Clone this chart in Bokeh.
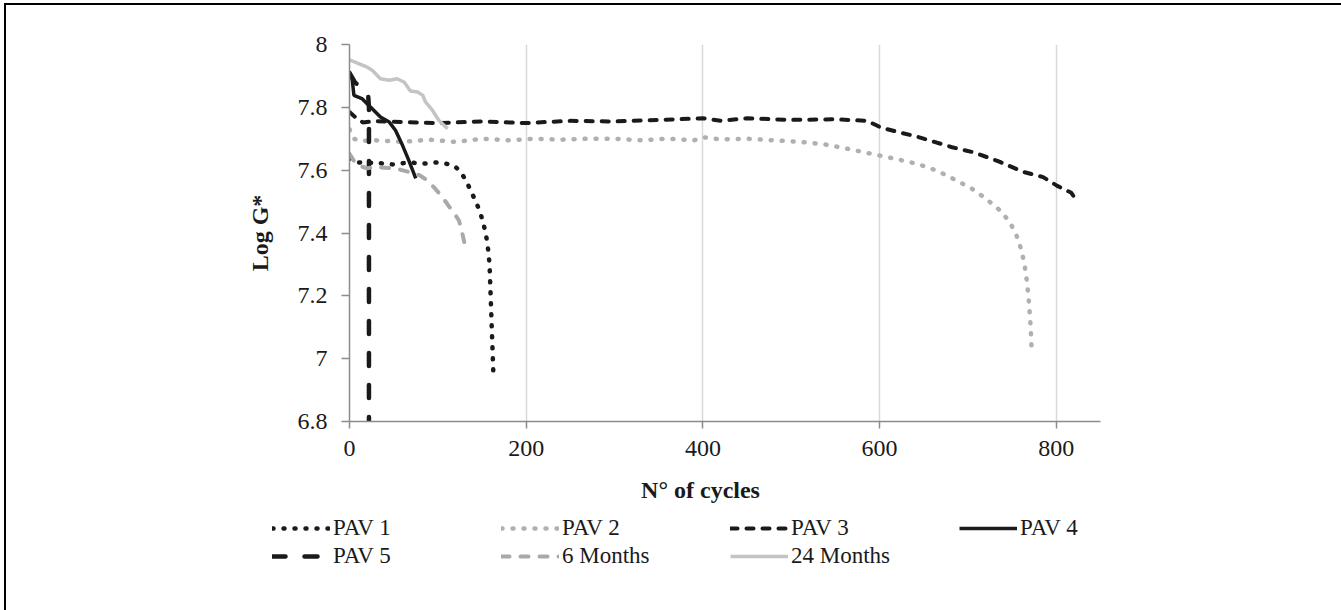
from bokeh.plotting import figure
from bokeh.layouts import column
from bokeh.models import Range1d, FixedTicker, Legend, LegendItem, Label
from bokeh.embed import file_html
from bokeh.resources import INLINE

# ---------------- data ----------------
series_names = ["PAV 1", "PAV 2", "PAV 3", "PAV 4", "PAV 5", "6 Months", "24 Months"]

x_pav1 = [0, 4, 10, 20, 30, 40, 50, 60, 70, 80, 90, 100, 110, 118, 124, 129, 133, 138, 143,
          148, 152, 155, 157, 158.5, 159.5, 160.5, 161.5, 162.5, 163]
y_pav1 = [7.64, 7.63, 7.625, 7.622, 7.625, 7.62, 7.618, 7.622, 7.625, 7.62, 7.622, 7.625, 7.62,
          7.615, 7.60, 7.58, 7.56, 7.53, 7.50, 7.465, 7.425, 7.385, 7.345, 7.30, 7.22, 7.14,
          7.06, 6.98, 6.94]

x_pav2 = [0, 5, 12, 30, 60, 90, 120, 150, 180, 210, 240, 270, 300, 330, 360, 390, 400, 420,
          450, 480, 510, 538, 564, 591, 618, 644, 666, 690, 705, 720, 735, 746, 754, 760, 764,
          767, 769, 770.5, 771.5, 772]
y_pav2 = [7.73, 7.70, 7.693, 7.695, 7.69, 7.697, 7.69, 7.70, 7.695, 7.70, 7.697, 7.70, 7.70,
          7.695, 7.70, 7.695, 7.705, 7.698, 7.70, 7.695, 7.69, 7.682, 7.668, 7.652, 7.636,
          7.619, 7.597, 7.563, 7.54, 7.51, 7.475, 7.44, 7.40, 7.35, 7.30, 7.24, 7.18, 7.12,
          7.07, 7.03]

x_pav3 = [0, 8, 15, 30, 60, 100, 150, 200, 250, 300, 350, 400, 420, 450, 500, 550, 586, 602,
          626, 642, 662, 682, 706, 734, 762, 785, 801, 817, 820]
y_pav3 = [7.785, 7.765, 7.752, 7.756, 7.753, 7.75, 7.755, 7.75, 7.757, 7.755, 7.76, 7.765,
          7.757, 7.765, 7.76, 7.762, 7.757, 7.735, 7.718, 7.707, 7.69, 7.673, 7.657, 7.629,
          7.595, 7.578, 7.55, 7.528, 7.515]

x_pav4 = [0, 3, 5, 14, 24, 35, 45, 52, 60, 67, 75]
y_pav4 = [7.905, 7.89, 7.838, 7.828, 7.80, 7.769, 7.753, 7.727, 7.679, 7.632, 7.574]

x_pav5 = [0, 6, 12, 18, 21, 22, 22, 22]
y_pav5 = [7.91, 7.88, 7.865, 7.85, 7.845, 7.80, 7.30, 6.80]

x_6m = [0, 5, 10, 20, 30, 40, 54, 69, 80, 88, 97, 105, 112, 118, 124, 127, 130]
y_6m = [7.652, 7.63, 7.615, 7.606, 7.61, 7.608, 7.604, 7.593, 7.583, 7.567, 7.541, 7.515,
        7.487, 7.465, 7.439, 7.407, 7.37]

x_24m = [0, 9, 20, 26, 35, 45, 54, 62, 69, 77, 83, 86, 94, 101, 111]
y_24m = [7.951, 7.941, 7.928, 7.917, 7.891, 7.886, 7.891, 7.88, 7.852, 7.849, 7.838, 7.817,
         7.79, 7.759, 7.732]

x_ticks = [0, 200, 400, 600, 800]
y_ticks = [6.8, 7.0, 7.2, 7.4, 7.6, 7.8, 8.0]
y_tick_labels = ["6.8", "7", "7.2", "7.4", "7.6", "7.8", "8"]

x_title = "N° of cycles"
y_title = "Log G*"

# ---------------- styles ----------------
FONT = "Liberation Serif"
BLACK = "#1a1a1a"
W = 1341
H_TOP = 471
H_BOT = 610 - H_TOP

line_styles = [
    dict(line_color=BLACK, line_width=4.5, line_dash="1 10", line_cap="round"),
    dict(line_color="#b0b0b0", line_width=4.5, line_dash="1 10", line_cap="round"),
    dict(line_color=BLACK, line_width=4, line_dash="7 9", line_cap="round"),
    dict(line_color=BLACK, line_width=3.5),
    dict(line_color=BLACK, line_width=4.5, line_dash="13 19", line_cap="round"),
    dict(line_color="#a9a9a9", line_width=4, line_dash="8 11", line_cap="round"),
    dict(line_color="#c4c4c4", line_width=3.5),
]

# ---------------- main chart ----------------
p = figure(width=W, height=H_TOP, output_backend="svg", toolbar_location=None,
           x_range=Range1d(0, 850), y_range=Range1d(6.8, 8.0),
           min_border_left=349, min_border_right=241, min_border_top=44,
           min_border_bottom=H_TOP - 421)
p.frame_align = False
p.outline_line_color = None
p.background_fill_color = "white"
p.border_fill_alpha = 0

p.xaxis.ticker = FixedTicker(ticks=x_ticks)
p.yaxis.ticker = FixedTicker(ticks=y_ticks)
p.yaxis.major_label_overrides = {t: l for t, l in zip(y_ticks, y_tick_labels)}

for ax in (p.xaxis[0], p.yaxis[0]):
    ax.axis_line_color = "#8c8c8c"
    ax.axis_line_width = 1.5
    ax.major_tick_line_color = "#8c8c8c"
    ax.major_tick_line_width = 1.5
    ax.major_tick_in = 0
    ax.minor_tick_line_color = None
    ax.major_label_text_font = FONT
    ax.major_label_text_font_size = "24px"
    ax.major_label_text_color = BLACK

p.xaxis.major_tick_out = 7
p.xaxis.major_label_standoff = 12
p.yaxis.major_tick_out = 8
p.yaxis.major_label_standoff = 14

p.yaxis.axis_label = y_title
p.yaxis.axis_label_text_font = FONT
p.yaxis.axis_label_text_font_style = "bold"
p.yaxis.axis_label_text_font_size = "24px"
p.yaxis.axis_label_text_color = BLACK
p.yaxis.axis_label_standoff = 22

p.ygrid.grid_line_color = None
p.xgrid.grid_line_color = "#d9d9d9"
p.xgrid.grid_line_width = 1.5

xs = [x_pav1, x_pav2, x_pav3, x_pav4, x_pav5, x_6m, x_24m]
ys = [y_pav1, y_pav2, y_pav3, y_pav4, y_pav5, y_6m, y_24m]
for x, y, st in zip(xs, ys, line_styles):
    p.line(x, y, **st)

# ---------------- lower strip: x title + legend (pixel coordinates) ----------------
q = figure(width=W, height=H_BOT, output_backend="svg", toolbar_location=None,
           x_range=Range1d(0, W), y_range=Range1d(H_BOT, 0),
           x_axis_location=None, y_axis_location=None, min_border=0)
q.frame_align = False
q.outline_line_color = None
q.background_fill_alpha = 0
q.border_fill_alpha = 0
q.grid.visible = False

q.add_layout(Label(x=700, y=489 - H_TOP, text=x_title, text_font=FONT,
                   text_font_style="bold", text_font_size="24px", text_color=BLACK,
                   text_align="center", text_baseline="middle"))

# off-screen single points: these renderers only feed the legend glyphs
legend_renderers = [q.line([-500], [-500], **st) for st in line_styles]
legend = Legend(items=[LegendItem(label=n, renderers=[r])
                       for n, r in zip(series_names, legend_renderers)],
                location=(272, H_BOT - (514 - H_TOP) - 56), orientation="horizontal",
                ncols=4, padding=0, margin=0, spacing=0, border_line_color=None,
                background_fill_alpha=0, glyph_width=58, glyph_height=28,
                label_height=28, label_width=168, label_standoff=3,
                label_text_font=FONT, label_text_font_size="23px",
                label_text_color=BLACK, label_text_baseline="middle")
q.add_layout(legend)

page = column(p, q, spacing=0)
page.styles = {"box-shadow": "inset 4px 3px 0 0 white, inset 6px 5px 0 0 black"}

open("out.html", "w").write(file_html(page, INLINE))
